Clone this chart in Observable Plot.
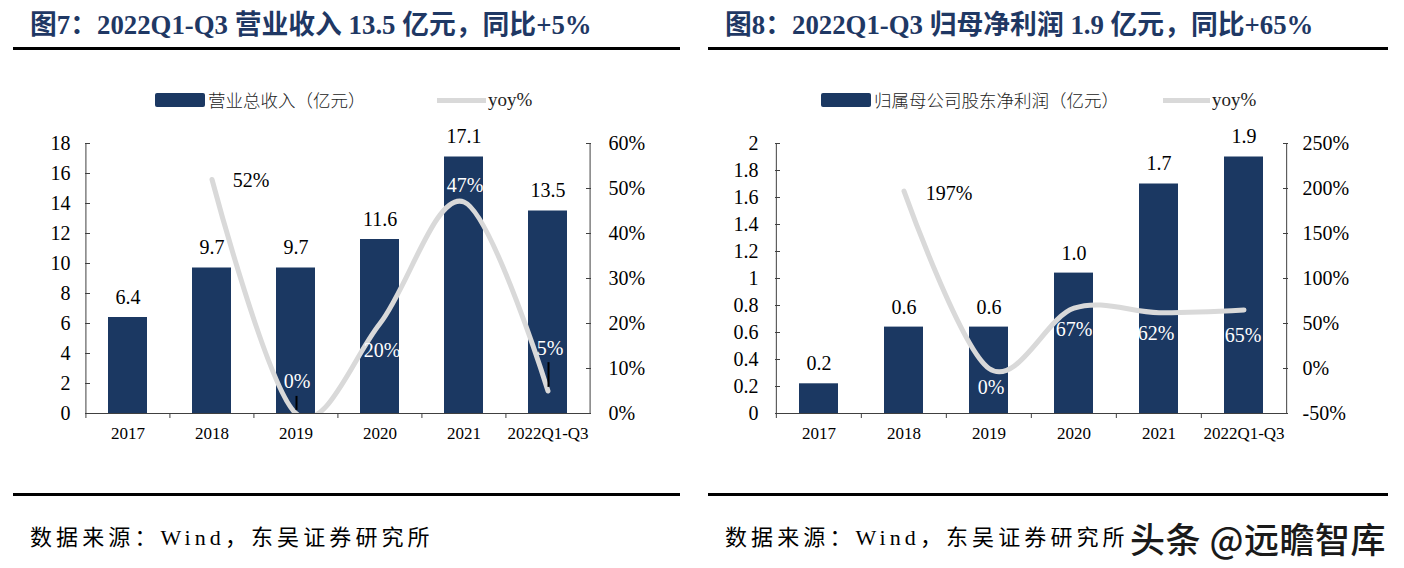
<!DOCTYPE html>
<html><head><meta charset="utf-8">
<script src="https://cdn.jsdelivr.net/npm/d3@7"></script>
<script src="https://cdn.jsdelivr.net/npm/@observablehq/plot@0.6"></script>
<style>
body{margin:0;background:#fff;}
#page{position:relative;width:1404px;height:568px;overflow:hidden;background:#fff;font-family:"Liberation Serif","Noto Sans CJK SC",serif;}
.abs{position:absolute;white-space:nowrap;}
.title{font-size:26.8px;font-weight:bold;color:#1f3864;line-height:34px;}
.rule{background:#000;height:3px;}
.src{font-size:22px;letter-spacing:4.1px;color:#000;line-height:30px;}
.leg{font-size:17.5px;line-height:20px;color:#222;font-family:"Noto Sans CJK SC",sans-serif;font-weight:300;}
.legy{font-size:19px;line-height:20px;color:#222;font-family:"Liberation Serif",serif;}
.wm{font-size:35px;line-height:40px;color:#1a1a1a;font-family:"Noto Sans CJK SC",sans-serif;font-weight:500;letter-spacing:0.5px;}
svg{overflow:visible;}
</style></head><body><div id="page"></div>
<script>
const categories = ["2017", "2018", "2019", "2020", "2021", "2022Q1-Q3"];
const revenue = [6.4, 9.7, 9.7, 11.6, 17.1, 13.5];
const revenueYoy = [null, 52, 0, 20, 47, 5];
const profit = [0.22, 0.64, 0.64, 1.04, 1.70, 1.90];
const profitYoy = [null, 197, 0, 67, 62, 65];
const revenueTicks = [0, 2, 4, 6, 8, 10, 12, 14, 16, 18];
const revenueYoyTicks = [0, 10, 20, 30, 40, 50, 60];
const profitTicks = [0, 0.2, 0.4, 0.6, 0.8, 1, 1.2, 1.4, 1.6, 1.8, 2];
const profitYoyTicks = [-50, 0, 50, 100, 150, 200, 250];
// label leader lines (yoy % units) on the revenue chart
const revenueLeaderCats = ["2019", "2022Q1-Q3"];
const revenueLeaderFrom = [0.7, 5.8];
const revenueLeaderTo = [3.8, 11.3];

const NAVY = "#1b3862";
const GRAY = "#d9d9d9";
const AX = "#404040";
const page = document.getElementById("page");

function el(cls, html, left, top, extra) {
  const d = document.createElement("div");
  d.className = "abs " + cls;
  d.innerHTML = html;
  d.style.left = left + "px";
  d.style.top = top + "px";
  if (extra) Object.assign(d.style, extra);
  page.appendChild(d);
  return d;
}

function makeChart(cfg) {
  const rows = categories.map((c, i) => ({cat: c, v: cfg.values[i], yoy: cfg.yoy[i]}));
  const lineRows = rows.filter(d => d.yoy != null);
  const leaders = (cfg.leaderCats || []).map((c, i) => ({cat: c, a: cfg.leaderFrom[i], b: cfg.leaderTo[i]}));
  const step = (cfg.width - cfg.ml - cfg.mr) / categories.length;
  const marks = [
    Plot.barY(rows, {x: "cat", y: "v", fill: NAVY}),
    Plot.line(lineRows, {x: "cat", y: d => cfg.toLeft(d.yoy), stroke: GRAY, strokeWidth: 5, curve: "cardinal", tension: 0, clip: true}),
    Plot.ruleX(leaders, {x: "cat", y1: d => cfg.toLeft(d.a), y2: d => cfg.toLeft(d.b), dx: 0.5, stroke: "#000", strokeWidth: 2}),
    Plot.text(rows, {x: "cat", y: "v", text: d => d.v.toFixed(1), dy: -20, fontSize: 20, fill: "#000"}),
    ...lineRows.map((d, i) => Plot.text([d], {
      x: "cat", y: r => cfg.toLeft(r.yoy), text: r => r.yoy + "%",
      dx: cfg.labelOffsets[i][0], dy: cfg.labelOffsets[i][1],
      fill: cfg.labelColors[i], fontSize: 20
    })),
    Plot.ruleY([0], {stroke: AX, strokeWidth: 1}),
    Plot.ruleX([categories[0]], {dx: -step / 2, stroke: AX, strokeWidth: 1}),
    Plot.ruleX([categories[categories.length - 1]], {dx: step / 2, stroke: AX, strokeWidth: 1}),
    Plot.axisY({anchor: "left", ticks: cfg.yTicks, tickFormat: cfg.yFmt, tickSize: 0, tickPadding: cfg.leftPad, fontSize: 20, fill: "#000", label: null}),
    Plot.axisY({anchor: "left", ticks: cfg.yTicks, tickFormat: () => "", tickSize: 5, dx: 5, stroke: AX, label: null}),
    Plot.axisY({anchor: "right", ticks: cfg.yoyTicks.map(cfg.toLeft), tickFormat: v => Math.round(cfg.fromLeft(v)) + "%", tickSize: 0, tickPadding: cfg.rightPad, fontSize: 20, fill: "#000", label: null}),
    Plot.axisY({anchor: "right", ticks: cfg.yoyTicks.map(cfg.toLeft), tickFormat: () => "", tickSize: 5, dx: -5, stroke: AX, label: null}),
    Plot.axisX({tickSize: 0, tickPadding: 13, fontSize: 17, fill: "#000", label: null}),
    Plot.axisX({tickSize: 5, tickFormat: () => "", dx: -step / 2, stroke: AX, label: null})
  ];
  const svg = Plot.plot({
    width: cfg.width, height: 340,
    marginLeft: cfg.ml, marginRight: cfg.mr, marginTop: 33, marginBottom: 37,
    style: {fontFamily: "Liberation Serif, serif", background: "transparent", overflow: "visible"},
    x: {domain: categories, paddingInner: 0.54, paddingOuter: 0.27, axis: null},
    y: {domain: [0, cfg.yMax], axis: null},
    marks
  });
  svg.style.position = "absolute";
  svg.style.left = cfg.left + "px";
  svg.style.top = "110px";
  page.appendChild(svg);
}

// ---- Left panel ----
el("title", "图7：2022Q1-Q3 营业收入 13.5 亿元，同比+5%", 30, 8);
el("rule", "", 13, 47, {width: "667px"});
el("", "", 155, 93, {width: "50px", height: "14px", background: NAVY, borderRadius: "2px"});
el("leg", "营业总收入（亿元）", 208, 90);
el("", "", 437, 98, {width: "49px", height: "5px", background: GRAY});
el("legy", "yoy%", 488, 90);
makeChart({
  left: 0, width: 690, ml: 85, mr: 100,
  values: revenue, yoy: revenueYoy, yMax: 18,
  yTicks: revenueTicks, yFmt: d => String(d),
  yoyTicks: revenueYoyTicks,
  toLeft: p => p * 0.3, fromLeft: v => v / 0.3,
  leftPad: 15, rightPad: 18,
  labelOffsets: [[39, 1], [1, -32], [2, 27], [1, -16], [2, -42]],
  labelColors: ["#000", "#fff", "#fff", "#fff", "#fff"],
  leaderCats: revenueLeaderCats, leaderFrom: revenueLeaderFrom, leaderTo: revenueLeaderTo
});
el("rule", "", 13, 493, {width: "667px"});
el("src", "数据来源：Wind，东吴证券研究所", 30, 523);

// ---- Right panel ----
el("title", "图8：2022Q1-Q3 归母净利润 1.9 亿元，同比+65%", 725, 8);
el("rule", "", 708, 47, {width: "680px"});
el("", "", 821, 93, {width: "50px", height: "14px", background: NAVY, borderRadius: "2px"});
el("leg", "归属母公司股东净利润（亿元）", 874, 90);
el("", "", 1163, 98, {width: "47px", height: "5px", background: GRAY});
el("legy", "yoy%", 1212, 90);
makeChart({
  left: 700, width: 704, ml: 75, mr: 117,
  values: profit, yoy: profitYoy, yMax: 2,
  yTicks: profitTicks, yFmt: d => String(+d.toFixed(1)),
  yoyTicks: profitYoyTicks,
  toLeft: p => (p + 50) / 150, fromLeft: v => v * 150 - 50,
  leftPad: 17, rightPad: 15,
  labelOffsets: [[45, 2], [2, 19], [0, 21], [-3, 21], [-1, 26]],
  labelColors: ["#000", "#fff", "#fff", "#fff", "#fff"]
});
el("rule", "", 708, 493, {width: "680px"});
el("src", "数据来源：Wind，东吴证券研究所", 725, 523);
el("wm", "头条 @远瞻智库", 1130, 518);
</script>
</body></html>
